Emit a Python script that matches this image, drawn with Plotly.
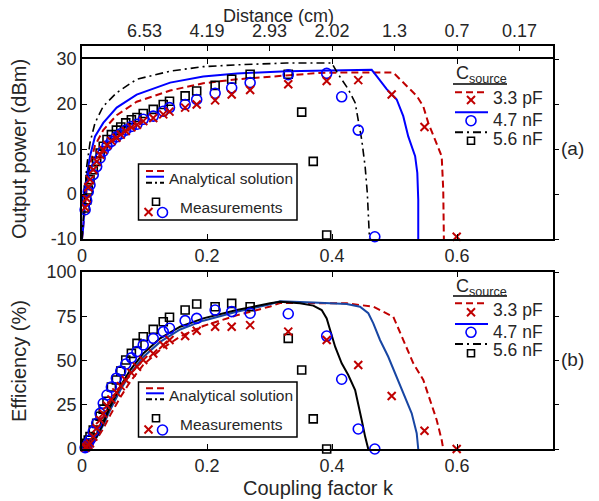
import plotly.graph_objects as go

# page body has an 8px margin: the figure is placed at (8, 8) in the window
OFF = 8
W, H = 599 - OFF, 501 - OFF
FONT = "Liberation Sans, Arial, sans-serif"
TXT = "#262626"
RED = "#C00000"
BLUE = "#0000FF"
BLUE_B = "#1846A3"
BLACK = "#000000"

# ---------------- data ----------------
# categories / tick labels
k_ticks = [0, 0.2, 0.4, 0.6]
k_tick_text = ["0", "0.2", "0.4", "0.6"]
p_ticks = [-10, 0, 10, 20, 30]
p_tick_text = ["-10", "0", "10", "20", "30"]
eff_ticks = [0, 25, 50, 75, 100]
eff_tick_text = ["0", "25", "50", "75", "100"]
dist_k = [0.1, 0.2, 0.3, 0.4, 0.5, 0.6, 0.7]
dist_text = ["6.53", "4.19", "2.93", "2.02", "1.3", "0.7", "0.17"]
series_names = ["3.3 pF", "4.7 nF", "5.6 nF"]

# analytical output power (dBm)
an_p_k_33 = [0, 0.002, 0.0048, 0.0085, 0.0128, 0.0208, 0.034, 0.0555, 0.0875, 0.141, 0.194, 0.248, 0.3275, 0.38, 0.42, 0.498, 0.5195, 0.5355, 0.546, 0.554, 0.5648, 0.5755, 0.578, 0.579]
an_p_33 = [-10, -7.5, -3.0, 2.5, 6.5, 10.8, 14.2, 17.5, 20.5, 23.0, 24.6, 25.5, 26.4, 26.9, 27.0, 27.0, 24.0, 21.8, 19.5, 15.8, 12.1, 8.4, 0.9, -10]
an_p_k_47 = [0, 0.002, 0.0048, 0.0085, 0.0128, 0.0208, 0.034, 0.0555, 0.0875, 0.141, 0.194, 0.248, 0.3275, 0.4635, 0.4715, 0.4875, 0.5035, 0.514, 0.522, 0.533, 0.5365, 0.538, 0.538]
an_p_47 = [-10, -7.3, -1.3, 4.7, 8.4, 12.8, 15.8, 19.2, 22.1, 24.75, 26.1, 26.8, 27.3, 27.6, 26.2, 23.3, 21.0, 17.3, 12.8, 8.4, 4.7, -1.3, -10]
an_p_k_56 = [0, 0.002, 0.0032, 0.0075, 0.0128, 0.0208, 0.034, 0.0555, 0.0875, 0.141, 0.194, 0.2475, 0.3275, 0.3995, 0.41, 0.426, 0.437, 0.442, 0.4475, 0.453, 0.4565, 0.46]
an_p_56 = [-10, -5.5, -1.3, 6.1, 11.4, 15.8, 19.5, 22.5, 25.5, 27.3, 28.3, 28.7, 29.1, 29.1, 26.6, 23.3, 20.3, 16.6, 12.1, 6.1, 0.2, -10]

# analytical efficiency (%)
an_e_k_33 = [0, 0.01, 0.0235, 0.034, 0.045, 0.061, 0.077, 0.098, 0.125, 0.157, 0.194, 0.2475, 0.301, 0.3168, 0.4235, 0.4661, 0.4981, 0.5141, 0.5301, 0.5461, 0.5568, 0.5675, 0.5755, 0.578]
an_e_33 = [0, 1.5, 5.5, 11.5, 19, 29, 38, 47.5, 56, 63.5, 69.5, 75.5, 80.5, 82.5, 82.3, 80.4, 74.7, 61.6, 48.4, 39.0, 27.7, 16.4, 5.1, 0]
an_e_k_47 = [0, 0.01, 0.0235, 0.034, 0.045, 0.061, 0.077, 0.098, 0.125, 0.157, 0.194, 0.2475, 0.301, 0.3168, 0.370, 0.4235, 0.4448, 0.4581, 0.4661, 0.4768, 0.490, 0.5008, 0.5141, 0.5275, 0.5355, 0.538]
an_e_47 = [0, 1.8, 6.5, 13.5, 22, 33, 42.5, 52, 60.5, 67.5, 72.5, 77.5, 81.8, 83.5, 82.7, 81.9, 80.4, 76.7, 71.0, 61.6, 52.1, 42.8, 31.5, 20.2, 8.9, 0]
an_e_k_56 = [0, 0.01, 0.0235, 0.034, 0.045, 0.061, 0.077, 0.098, 0.125, 0.157, 0.194, 0.2475, 0.301, 0.3168, 0.3488, 0.370, 0.3835, 0.3915, 0.397, 0.405, 0.4155, 0.426, 0.437, 0.442, 0.4475, 0.453, 0.458]
an_e_56 = [0, 2, 7, 14.5, 23.9, 35.2, 44.6, 54, 62.5, 69.1, 73.8, 78.5, 82.3, 83.2, 82.3, 81.0, 78.5, 73.8, 67.2, 57.8, 48.4, 41.8, 33.3, 25.8, 16.4, 7.0, 0]

# measurements
k_early = [0.005, 0.0075, 0.010, 0.0128, 0.018, 0.0235, 0.029, 0.034, 0.040, 0.047, 0.055, 0.062, 0.070, 0.079, 0.088, 0.098, 0.114, 0.130, 0.140, 0.165, 0.1835, 0.213, 0.2395, 0.269, 0.330, 0.3915]
ms_k_33 = k_early + [0.442, 0.4955, 0.548, 0.5995]
ms_p_33 = [-3.0, -1.0, 1.5, 3.2, 5.4, 7.2, 8.7, 9.8, 10.9, 11.8, 12.5, 13.2, 14.0, 14.8, 15.4, 16.2, 16.9, 17.7, 18.3, 19.2, 19.9, 20.8, 22.1, 23.1, 24.4, 25.1, 25.3, 22.1, 14.9, -9.5]
ms_e_33 = [0.8, 1.3, 2.2, 3.2, 7.0, 11.7, 16.4, 20.0, 24.5, 28.0, 32.0, 35.5, 39.0, 43.0, 46.5, 50.3, 54.0, 58.8, 61.6, 63.8, 66.8, 69.1, 69.1, 70.0, 66.3, 61.6, 47.5, 29.9, 10.3, 0]
ms_k_47 = k_early + [0.4155, 0.442, 0.4685]
ms_p_47 = [-3.5, -1.5, 0.5, 2.0, 4.3, 6.1, 8.0, 9.5, 10.7, 11.7, 12.7, 13.4, 14.2, 15.0, 15.5, 16.6, 17.3, 18.4, 19.2, 19.9, 21.0, 22.4, 23.6, 24.75, 26.5, 26.8, 21.6, 14.2, -9.5]
ms_e_47 = [0.8, 1.3, 3.0, 5.1, 9.8, 14.5, 20.1, 25.8, 30.5, 35.0, 40.0, 44.0, 48.0, 51.5, 55.0, 58.8, 62.5, 66.3, 68.2, 72.5, 73.8, 78.5, 77.6, 76.7, 76.4, 63.8, 39.4, 11.3, 0]
ms_k_56 = k_early[:-1] + [0.3515, 0.370, 0.3915]
ms_p_56 = [-3.1, -1.3, 0.9, 3.2, 5.4, 7.25, 9.1, 10.6, 12.1, 13.2, 14.2, 14.9, 15.8, 16.5, 17.0, 17.9, 18.8, 19.9, 20.6, 21.8, 22.9, 24.15, 25.5, 26.6, 26.6, 18.2, 7.25, -9.1]
ms_e_56 = [1.5, 3.2, 5.0, 7.0, 10.7, 14.5, 18.5, 22.5, 27.0, 35.0, 39.0, 44.0, 50.3, 54.0, 59.7, 63.4, 67.6, 71.9, 74.4, 78.5, 81.9, 80.4, 82.3, 80.4, 62.5, 44.6, 17.0, 0]

# ---------------- layout geometry (window pixels) ----------------
def X(px):
    return (px - OFF) / W

def Y(py):
    return 1 - (py - OFF) / H

PLOT_L, PLOT_R = 82, 553
TOP_T, TOP_B = 59, 239
BOT_T, BOT_B = 272, 449
DIST_T = 46
K_MAX = 0.7536

fig = go.Figure()

line_styles_top = [
    (an_p_k_33, an_p_33, dict(color=RED, width=2, dash="7px,4px")),
    (an_p_k_47, an_p_47, dict(color=BLUE, width=2)),
    (an_p_k_56, an_p_56, dict(color=BLACK, width=1.6, dash="8px,4px,2px,4px")),
]
for kx, vy, ln in line_styles_top:
    fig.add_trace(go.Scatter(x=kx, y=vy, mode="lines", line=ln, xaxis="x", yaxis="y",
                             showlegend=False, hoverinfo="skip"))

line_styles_bot = [
    (an_e_k_33, an_e_33, dict(color=RED, width=2, dash="7px,4px")),
    (an_e_k_47, an_e_47, dict(color=BLUE_B, width=2)),
    (an_e_k_56, an_e_56, dict(color=BLACK, width=2)),
]
for kx, vy, ln in line_styles_bot:
    fig.add_trace(go.Scatter(x=kx, y=vy, mode="lines", line=ln, xaxis="x2", yaxis="y2",
                             showlegend=False, hoverinfo="skip"))

mk_x = dict(symbol="x-thin", size=8, line=dict(width=2, color=RED), color=RED)
mk_o = dict(symbol="circle-open", size=10, line=dict(width=1.6), color=BLUE)
mk_s = dict(symbol="square-open", size=8, line=dict(width=1.6), color=BLACK)

for ax, ay, data in [
    ("x", "y", [(ms_k_56, ms_p_56, mk_s), (ms_k_47, ms_p_47, mk_o), (ms_k_33, ms_p_33, mk_x)]),
    ("x2", "y2", [(ms_k_56, ms_e_56, mk_s), (ms_k_47, ms_e_47, mk_o), (ms_k_33, ms_e_33, mk_x)]),
]:
    for kx, vy, mk in data:
        fig.add_trace(go.Scatter(x=kx, y=vy, mode="markers", marker=mk, xaxis=ax, yaxis=ay,
                                 cliponaxis=False, showlegend=False, hoverinfo="skip"))

# empty traces to instantiate helper axes
for ax, ay in [("x", "y3"), ("x2", "y4"), ("x5", "y5")]:
    fig.add_trace(go.Scatter(x=[None], y=[None], xaxis=ax, yaxis=ay, mode="markers",
                             showlegend=False, hoverinfo="skip"))

tickfont = dict(family=FONT, size=18, color=TXT)
common_x = dict(range=[0, K_MAX], showgrid=False, zeroline=False, showline=True,
                linecolor=BLACK, linewidth=1.5, mirror="ticks", ticks="inside",
                ticklen=5, tickcolor=BLACK, tickwidth=1.3, tickvals=k_ticks,
                ticktext=k_tick_text, tickfont=tickfont, automargin=False,
                domain=[X(PLOT_L), X(PLOT_R)])
common_y = dict(showgrid=False, zeroline=False, showline=True, linecolor=BLACK,
                linewidth=1.5, mirror=True, ticks="inside", ticklen=5,
                tickcolor=BLACK, tickwidth=1.3, tickfont=tickfont, automargin=False)
right_y = dict(showgrid=False, zeroline=False, showline=False, ticks="outside",
               ticklen=5, tickcolor=BLACK, tickwidth=1.3, showticklabels=False,
               side="right", automargin=False)

fig.update_layout(
    width=W, height=H,
    margin=dict(l=0, r=0, t=0, b=0, autoexpand=False),
    paper_bgcolor="white", plot_bgcolor="white",
    font=dict(family=FONT, color=TXT),
    xaxis=dict(**common_x, anchor="y"),
    yaxis=dict(**common_y, range=[-10, 30], tickvals=p_ticks, ticktext=p_tick_text,
               domain=[Y(TOP_B), Y(TOP_T)], anchor="x"),
    yaxis3=dict(**right_y, range=[-10, 30], tickvals=p_ticks, overlaying="y", anchor="x"),
    xaxis2=dict(**common_x, anchor="y2"),
    yaxis2=dict(**common_y, range=[0, 100], tickvals=eff_ticks, ticktext=eff_tick_text,
                domain=[Y(BOT_B), Y(BOT_T)], anchor="x2"),
    yaxis4=dict(**right_y, range=[0, 100], tickvals=eff_ticks, overlaying="y2", anchor="x2"),
    xaxis5=dict(range=[0, K_MAX], domain=[X(PLOT_L), X(PLOT_R)], anchor="y5", side="top",
                showgrid=False, zeroline=False, showline=True, linecolor=BLACK,
                linewidth=1.5, mirror=False, ticks="inside", ticklen=5, tickcolor=BLACK,
                tickwidth=1.3, tickvals=dist_k, ticktext=dist_text, automargin=False,
                tickfont=dict(family=FONT, size=18, color=TXT)),
    yaxis5=dict(range=[0, 1], domain=[Y(TOP_T), Y(DIST_T)], anchor="x5",
                showgrid=False, zeroline=False, showline=True, linecolor=BLACK,
                linewidth=1.5, mirror=True, ticks="", showticklabels=False,
                automargin=False),
)

shapes = []
annotations = []

def text(px, py, s, size=17, xanchor="center", angle=0):
    annotations.append(dict(x=X(px), y=Y(py), xref="paper", yref="paper", text=s,
                            showarrow=False, xanchor=xanchor, yanchor="middle",
                            textangle=angle, font=dict(family=FONT, size=size, color=TXT)))

def hline(x0, x1, py, color, dash="solid", width=2):
    shapes.append(dict(type="line", xref="paper", yref="paper", x0=X(x0), x1=X(x1),
                       y0=Y(py), y1=Y(py), line=dict(color=color, width=width, dash=dash)))

def marker_glyph(kind, cx, cy):
    if kind == "x":
        r = 4
        for sgn in (1, -1):
            shapes.append(dict(type="line", xref="paper", yref="paper",
                               x0=X(cx - r), x1=X(cx + r), y0=Y(cy - sgn * r), y1=Y(cy + sgn * r),
                               line=dict(color=RED, width=2)))
    elif kind == "o":
        r = 5
        shapes.append(dict(type="circle", xref="paper", yref="paper", x0=X(cx - r), x1=X(cx + r),
                           y0=Y(cy + r), y1=Y(cy - r), line=dict(color=BLUE, width=1.6)))
    else:
        r = 3.5
        shapes.append(dict(type="rect", xref="paper", yref="paper", x0=X(cx - r), x1=X(cx + r),
                           y0=Y(cy + r), y1=Y(cy - r), line=dict(color=BLACK, width=1.6)))

DASHES = {"red": "7px,4px", "black": "8px,4px,2px,4px"}

# Csource legends
for (t_c, t_u, rows, lab, lab_y) in [
    (75, 84, [(92.3, 100, 98.3), (112.3, 120.7, 120), (132.3, 140.7, 139.3)], "(a)", 148.3),
    (287, 296, [(303.3, 312.3, 310), (324, 332.3, 331.7), (344, 353.3, 350)], "(b)", 359.3),
]:
    text(454, t_c, "C<sub>source</sub>", size=18, xanchor="left")
    hline(453, 507, t_u, BLACK, width=1.6)
    styles = [(RED, DASHES["red"], "x"), (BLUE, "solid", "o"), (BLACK, DASHES["black"], "s")]
    for (ly, my, ty), (col, dsh, mk), name in zip(rows, styles, series_names):
        hline(455, 488, ly, col, dsh)
        marker_glyph(mk, 471, my)
        text(491, ty, name, size=17.5, xanchor="left")
    text(572, lab_y, lab, size=19)

# inner legends
for (by0, by1, l1, l2, l3, ty1, sq, xo, ty2) in [
    (164, 220, 171, 176.7, 182.7, 178.3, 201.7, 212, 207.7),
    (382, 437, 388.3, 393.3, 399.3, 395, 418.3, 429.5, 424.3),
]:
    shapes.append(dict(type="rect", xref="paper", yref="paper", x0=X(138.5), x1=X(297),
                       y0=Y(by1), y1=Y(by0), line=dict(color=BLACK, width=1.5),
                       fillcolor="white", layer="above"))
    hline(146, 164, l1, RED, DASHES["red"])
    hline(146, 164, l2, BLUE, "solid")
    hline(146, 164, l3, BLACK, "6px,3px,2px,3px")
    text(167, ty1, "Analytical solution", size=15.5, xanchor="left")
    marker_glyph("s", 156, sq)
    marker_glyph("x", 148.5, xo)
    marker_glyph("o", 162.5, xo + 0.5)
    text(178, ty2, "Measurements", size=15.5, xanchor="left")

# axis titles
text(19, 149, "Output power (dBm)", size=20, angle=-90)
text(19, 361, "Efficiency (%)", size=20, angle=-90)
text(318, 488, "Coupling factor k", size=20)
text(278, 16, "Distance (cm)", size=18)

fig.update_layout(shapes=shapes, annotations=annotations)
fig.write_html("out.html")
